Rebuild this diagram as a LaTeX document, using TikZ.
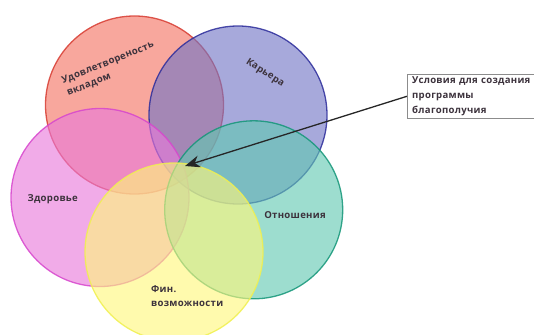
\documentclass[tikz,border=0pt]{standalone}
\usepackage{fontspec}
\setmainfont{Open Sans}[LetterSpace=3]
\usetikzlibrary{arrows.meta}
\definecolor{vRed}{RGB}{243,113,97}
\definecolor{vRedLine}{RGB}{215,60,50}
\definecolor{vBlue}{RGB}{113,117,197}
\definecolor{vBlueLine}{RGB}{45,45,155}
\definecolor{vPink}{RGB}{233,120,218}
\definecolor{vPinkLine}{RGB}{215,70,205}
\definecolor{vTeal}{RGB}{97,200,178}
\definecolor{vTealLine}{RGB}{20,150,120}
\definecolor{vYellow}{RGB}{255,247,122}
\definecolor{vYellowLine}{RGB}{240,240,80}
\definecolor{labelGray}{RGB}{60,50,60}
\tikzset{zone/.style={circle, minimum size=178pt, inner sep=0pt, line width=1.3pt,
  fill opacity=0.62, draw opacity=0.85},
  tag/.style={font=\bfseries\fontsize{9.6}{13.3}\selectfont, text=labelGray, inner sep=0pt},
  note/.style={draw=black!45, thin, anchor=north west, align=left, text width=150pt,
  inner xsep=5pt, inner ysep=2.5pt, font=\bfseries\fontsize{9.6}{15}\selectfont, text=labelGray},
  pointer/.style={-{Stealth[length=15pt, width=12pt]}, line width=1.3pt, draw=black!85}}

\begin{document}
\begin{tikzpicture}[x=1pt, y=-1pt]
  \useasboundingbox (0,0) rectangle (534,334);
  \clip (0,0) rectangle (534,334);
  % circles
  \node[zone, fill=vRed, draw=vRedLine] (sat) at (134.5,105) {};
  \node[zone, fill=vBlue, draw=vBlueLine] (car) at (238,115) {};
  \node[zone, fill=vPink, draw=vPinkLine] (hea) at (100,197.5) {};
  \node[zone, fill=vTeal, draw=vTealLine] (rel) at (253.7,209.8) {};
  \node[zone, fill=vYellow, draw=vYellowLine] (fin) at (174,252) {};
  % labels
  \node[tag, rotate=22, align=left] (satL) at (110.5,69) {Удовлетвореность\\вкладом};
  \node[tag, rotate=-33] (carL) at (265,73) {Карьера};
  \node[tag] (heaL) at (52.7,199) {Здоровье};
  \node[tag] (relL) at (295,215) {Отношения};
  \node[tag, align=left, anchor=west, font=\bfseries\fontsize{9.6}{14}\selectfont] (finL) at (151,296) {Фин.\\возможности};
  % note
  \node[note] (goal) at (407,74) {Условия для создания\\программы\\благополучия};
  \coordinate (core) at (185,166);
  \draw[pointer] (goal.west) -- (core);
\end{tikzpicture}
\end{document}
